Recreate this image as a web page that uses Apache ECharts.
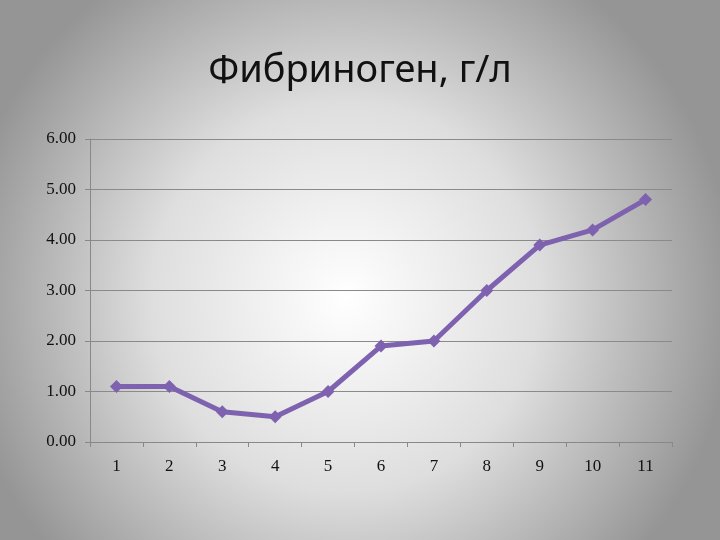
<!DOCTYPE html>
<html>
<head>
<meta charset="utf-8">
<script src="https://cdn.jsdelivr.net/npm/echarts@6/dist/echarts.min.js"></script>
<style>html,body{margin:0;padding:0;}#c{width:720px;height:540px;}</style>
</head>
<body>
<div id="c"></div>
<script>
var categories = ['1','2','3','4','5','6','7','8','9','10','11'];
var values = [1.1, 1.1, 0.6, 0.5, 1.0, 1.9, 2.0, 3.0, 3.9, 4.2, 4.8];
var titleText = 'Фибриноген, г/л';

var chart = echarts.init(document.getElementById('c'));
chart.setOption({
  backgroundColor: {
    type: 'radial', x: 0.48, y: 0.55, r: 0.72,
    colorStops: [
      {offset: 0, color: '#ffffff'},
      {offset: 0.5, color: '#dedede'},
      {offset: 1, color: '#959595'}
    ]
  },
  title: {
    text: titleText, left: 'center', top: 47,
    textStyle: {fontFamily: 'Noto Sans', fontSize: 38, fontWeight: 'normal', color: '#111'}
  },
  grid: {left: 90, right: 48, top: 139, bottom: 98},
  xAxis: {
    type: 'category', data: categories, boundaryGap: true,
    axisLine: {lineStyle: {color: '#888', width: 1}},
    axisTick: {show: true, length: 5, lineStyle: {color: '#888'}},
    axisLabel: {margin: 16, fontFamily: 'Liberation Serif', fontSize: 17, color: '#111'}
  },
  yAxis: {
    type: 'value', min: 0, max: 6, interval: 1,
    axisLine: {show: true, lineStyle: {color: '#888', width: 1}},
    axisTick: {show: true, length: 5, lineStyle: {color: '#888'}},
    splitLine: {lineStyle: {color: '#8a8a8a', width: 1}},
    axisLabel: {margin: 14, fontFamily: 'Liberation Serif', fontSize: 17, color: '#111',
      formatter: function (v) { return v.toFixed(2); }}
  },
  series: [{
    type: 'line', data: values,
    symbol: 'diamond', symbolSize: 13,
    lineStyle: {color: '#7e62b0', width: 5},
    itemStyle: {color: '#7e62b0'},
    animation: false
  }]
});
</script>
</body>
</html>
